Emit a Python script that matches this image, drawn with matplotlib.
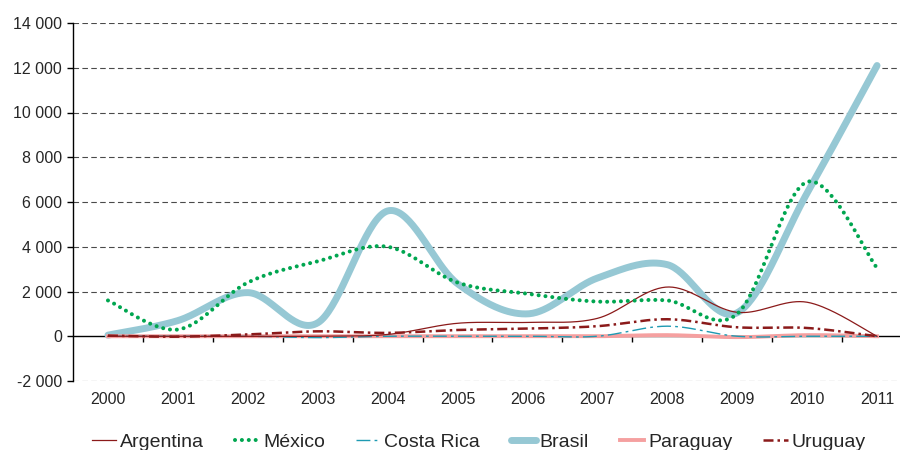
import numpy as np
import matplotlib
matplotlib.use('Agg')
import matplotlib.pyplot as plt
from matplotlib.ticker import FuncFormatter

plt.rcParams['font.family'] = ['Liberation Sans', 'DejaVu Sans']

# Dados
anos = ['2000', '2001', '2002', '2003', '2004', '2005',
        '2006', '2007', '2008', '2009', '2010', '2011']
argentina = [0, 0, 0, 0, 80, 580, 620, 800, 2200, 1070, 1520, 0]
mexico = [1600, 300, 2400, 3350, 4000, 2400, 1900, 1550, 1600, 1000, 6900, 3050]
costa_rica = [0, 0, 0, -60, 0, 0, 0, 0, 450, 0, 0, 0]
brasil = [50, 700, 1950, 600, 5600, 2350, 1000, 2600, 3200, 1050, 6400, 12100]
paraguay = [0, 0, 0, 0, 0, 0, 0, 0, 50, -40, 50, 0]
uruguay = [30, -20, 80, 220, 150, 280, 340, 450, 760, 400, 370, 0]

cor_texto = '#262626'


def suavizar(y, n=40):
    # curva suavizada (Bezier tipo Excel) que passa pelos pontos
    pts = np.column_stack([np.arange(len(y)), np.asarray(y, float)])
    t = np.linspace(0, 1, n)[:, None]
    partes = []
    for i in range(len(pts) - 1):
        p0 = pts[max(i - 1, 0)]
        p1 = pts[i]
        p2 = pts[i + 1]
        p3 = pts[min(i + 2, len(pts) - 1)]
        c1 = p1 + (p2 - p0) / 6
        c2 = p2 - (p3 - p1) / 6
        b = ((1 - t) ** 3) * p1 + 3 * ((1 - t) ** 2) * t * c1 \
            + 3 * (1 - t) * t ** 2 * c2 + t ** 3 * p2
        partes.append(b if i == 0 else b[1:])
    c = np.vstack(partes)
    return c[:, 0], c[:, 1]


fig = plt.figure(figsize=(9, 4.5), dpi=100)
ax = fig.add_axes([73 / 900, 69 / 450, 839 / 900, 358 / 450])

ax.set_xlim(-0.5, 11.5)
ax.set_ylim(-2000, 14000)

# grade tracejada
for v in range(-2000, 14001, 2000):
    if v == 0:
        continue
    ax.axhline(v, color='#4a4a4a', lw=0.8, dashes=(5, 3), zorder=1)

series = [
    ('Argentina', argentina, dict(color='#8B1A1A', lw=0.9, zorder=6)),
    ('México', mexico, dict(color='#00A650', lw=2.9, dashes=(0.01, 1.7),
                            dash_capstyle='round', zorder=7)),
    ('Costa Rica', costa_rica, dict(color='#1E9AB2', lw=1.0, dashes=(10, 3, 2, 3), zorder=5)),
    ('Brasil', brasil, dict(color='#96C8D4', lw=5.0, solid_capstyle='round', zorder=3)),
    ('Paraguay', paraguay, dict(color='#F5A0A0', lw=2.8, zorder=4)),
    ('Uruguay', uruguay, dict(color='#8B1A1A', lw=1.8, dashes=(4, 1.6, 1, 1.6), zorder=6)),
]

for nome, valores, estilo in series:
    xs, ys = suavizar(valores)
    ax.plot(xs, ys, label=nome, **estilo)

# eixos
for lado in ['top', 'right']:
    ax.spines[lado].set_visible(False)
ax.spines['left'].set_linewidth(1.0)
ax.spines['left'].set_color('black')
ax.spines['bottom'].set_position(('data', 0))
ax.spines['bottom'].set_linewidth(1.0)
ax.spines['bottom'].set_zorder(2)

ax.set_yticks(range(-2000, 14001, 2000))
ax.yaxis.set_major_formatter(FuncFormatter(lambda v, p: f'{v:,.0f}'.replace(',', ' ')))
ax.tick_params(axis='y', direction='out', length=4, width=1, pad=4,
               labelsize=11.5, labelcolor=cor_texto)

ax.set_xticks(np.arange(0.5, 11, 1))
ax.set_xticklabels([])
ax.tick_params(axis='x', direction='out', length=4, width=1)

for i, ano in enumerate(anos):
    ax.text(i, -2000 - 18 * 2000 / 44.7, ano, ha='center', va='center',
            fontsize=11.5, color=cor_texto, clip_on=False)

fig.legend(loc='center', bbox_to_anchor=(0.532, 1 - 442 / 450), ncol=6,
           frameon=False, fontsize=14, handlelength=1.25, handletextpad=0.2,
           columnspacing=1.6, labelcolor=cor_texto)

fig.savefig('out.png', dpi=100)
